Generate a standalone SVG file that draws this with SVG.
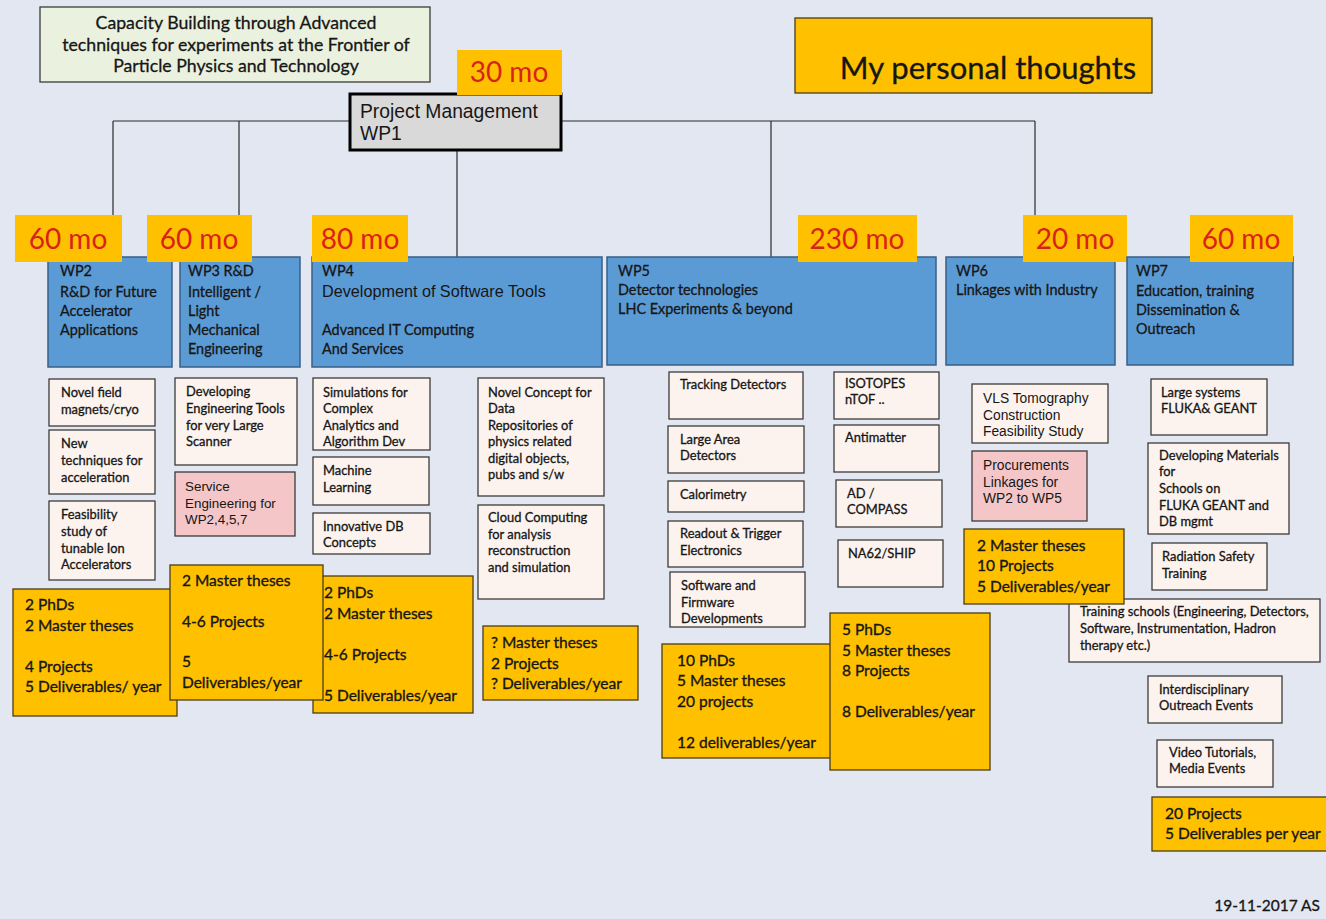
<svg xmlns="http://www.w3.org/2000/svg" width="1326" height="919" viewBox="0 0 1326 919">
  <style>
    .cal { font-family: Lato, "Open Sans", "Liberation Sans", sans-serif; fill: #161616; stroke: #161616; stroke-width: 0.3; }
    .ari { font-family: "Liberation Sans", Arial, sans-serif; fill: #161616; }
    .mo { font-family: Lato, "Open Sans", "Liberation Sans", sans-serif; font-size: 28px; fill: #d8231b; }
    .badge { fill: #ffc000; }
    .wp { fill: #5b9bd5; stroke: #3a5f86; stroke-width: 1.5; }
    .sub { fill: #fcf3ee; stroke: #3b3b3b; stroke-width: 1.3; }
    .pink { fill: #f4c6c8; stroke: #3b3b3b; stroke-width: 1.3; }
    .out { fill: #ffc000; stroke: #4a3c14; stroke-width: 1.3; }
    .s12 { font-size: 12.9px; }
    .s13 { font-size: 14.4px; }
    .s15 { font-size: 15.5px; stroke-width: 0.35; }
    .conn line { stroke: #2a2a2a; stroke-width: 1.2; }
  </style>

  <!-- background -->
  <rect x="0" y="0" width="1326" height="919" fill="#e3e7f2"/>

  <!-- connectors -->
  <g id="connectors" class="conn">
    <line x1="113" y1="121" x2="1035" y2="121"/>
    <line x1="113" y1="121" x2="113" y2="257"/>
    <line x1="239" y1="121" x2="239" y2="257"/>
    <line x1="457" y1="150" x2="457" y2="257"/>
    <line x1="771" y1="121" x2="771" y2="257"/>
    <line x1="1035" y1="121" x2="1035" y2="257"/>
  </g>

  <!-- header -->
  <g id="title">
    <rect x="40" y="7" width="390" height="75" fill="#ebf1df" stroke="#3b3b3b" stroke-width="1.3"/>
    <text class="cal" style="font-size:17.7px" text-anchor="middle"><tspan x="236" y="29">Capacity Building through Advanced</tspan><tspan x="236" y="51">techniques for experiments at the Frontier of</tspan><tspan x="236" y="72">Particle Physics and Technology</tspan></text>
  </g>

  <g id="thoughts">
    <rect x="795" y="18" width="357" height="75" fill="#ffc000" stroke="#4a3c14" stroke-width="1.3"/>
    <text class="cal" x="988" y="79" text-anchor="middle" style="font-size:31px">My personal thoughts</text>
  </g>

  <g id="wp1">
    <rect x="350" y="94" width="211" height="56" fill="#d9d9d9" stroke="#000" stroke-width="3"/>
    <text class="ari" style="font-size:19.3px"><tspan x="360" y="118">Project Management</tspan><tspan x="360" y="140">WP1</tspan></text>
    <rect class="badge" x="457" y="50" width="105" height="45"/>
    <text class="mo" x="509" y="82" text-anchor="middle">30 mo</text>
  </g>

  <!-- work packages -->
  <g id="wp2">
    <rect class="wp" x="48" y="257" width="124" height="110"/>
    <rect class="badge" x="15" y="215" width="107" height="47"/>
    <text class="mo" x="68" y="249" text-anchor="middle">60 mo</text>
    <text class="cal s13"><tspan x="60" y="276">WP2</tspan><tspan x="60" y="297">R&amp;D for Future</tspan><tspan x="60" y="316">Accelerator</tspan><tspan x="60" y="335">Applications</tspan></text>
  </g>

  <g id="wp3">
    <rect class="wp" x="180" y="257" width="120" height="110"/>
    <rect class="badge" x="147" y="215" width="105" height="47"/>
    <text class="mo" x="199" y="249" text-anchor="middle">60 mo</text>
    <text class="cal s13"><tspan x="188" y="276">WP3 R&amp;D</tspan><tspan x="188" y="297">Intelligent /</tspan><tspan x="188" y="316">Light</tspan><tspan x="188" y="335">Mechanical</tspan><tspan x="188" y="354">Engineering</tspan></text>
  </g>

  <g id="wp4">
    <rect class="wp" x="312" y="257" width="290" height="110"/>
    <rect class="badge" x="312" y="215" width="96" height="47"/>
    <text class="mo" x="360" y="249" text-anchor="middle">80 mo</text>
    <text class="cal s13" x="322" y="276">WP4</text>
    <text class="ari" x="322" y="297" style="font-size:16.2px">Development of Software Tools</text>
    <text class="cal s13"><tspan x="322" y="335">Advanced IT Computing</tspan><tspan x="322" y="354">And Services</tspan></text>
  </g>

  <g id="wp5">
    <rect class="wp" x="607" y="257" width="329" height="108"/>
    <rect class="badge" x="798" y="215" width="119" height="47"/>
    <text class="mo" x="857" y="249" text-anchor="middle">230 mo</text>
    <text class="cal s13"><tspan x="618" y="276">WP5</tspan><tspan x="618" y="295">Detector technologies</tspan><tspan x="618" y="314">LHC Experiments &amp; beyond</tspan></text>
  </g>

  <g id="wp6">
    <rect class="wp" x="946" y="257" width="169" height="108"/>
    <rect class="badge" x="1023" y="215" width="104" height="47"/>
    <text class="mo" x="1075" y="249" text-anchor="middle">20 mo</text>
    <text class="cal s13"><tspan x="956" y="276">WP6</tspan><tspan x="956" y="295">Linkages with Industry</tspan></text>
  </g>

  <g id="wp7">
    <rect class="wp" x="1127" y="257" width="166" height="108"/>
    <rect class="badge" x="1190" y="215" width="103" height="47"/>
    <text class="mo" x="1241" y="249" text-anchor="middle">60 mo</text>
    <text class="cal s13"><tspan x="1136" y="276">WP7</tspan><tspan x="1136" y="296">Education, training</tspan><tspan x="1136" y="315">Dissemination &amp;</tspan><tspan x="1136" y="334">Outreach</tspan></text>
  </g>

  <!-- WP2 topics -->
  <g id="wp2-topics">
    <rect class="sub" x="49" y="379" width="106" height="47"/>
    <text class="cal s12"><tspan x="61" y="397">Novel field</tspan><tspan x="61" y="414">magnets/cryo</tspan></text>
    <rect class="sub" x="49" y="430" width="106" height="64"/>
    <text class="cal s12"><tspan x="61" y="448">New</tspan><tspan x="61" y="465">techniques for</tspan><tspan x="61" y="482">acceleration</tspan></text>
    <rect class="sub" x="49" y="501" width="106" height="79"/>
    <text class="cal s12"><tspan x="61" y="519">Feasibility</tspan><tspan x="61" y="536">study of</tspan><tspan x="61" y="553">tunable Ion</tspan><tspan x="61" y="569">Accelerators</tspan></text>
  </g>

  <!-- WP3 topics -->
  <g id="wp3-topics">
    <rect class="sub" x="175" y="378" width="122" height="87"/>
    <text class="cal s12"><tspan x="186" y="396">Developing</tspan><tspan x="186" y="413">Engineering Tools</tspan><tspan x="186" y="430">for very Large</tspan><tspan x="186" y="446">Scanner</tspan></text>
    <rect class="pink" x="175" y="472" width="120" height="64"/>
    <text class="ari" style="font-size:13.4px"><tspan x="185" y="491">Service</tspan><tspan x="185" y="508">Engineering for</tspan><tspan x="185" y="524">WP2,4,5,7</tspan></text>
  </g>

  <!-- WP4 topics -->
  <g id="wp4-topics">
    <rect class="sub" x="313" y="378" width="117" height="72"/>
    <text class="cal s12"><tspan x="323" y="397">Simulations for</tspan><tspan x="323" y="413">Complex</tspan><tspan x="323" y="430">Analytics and</tspan><tspan x="323" y="446">Algorithm Dev</tspan></text>
    <rect class="sub" x="313" y="457" width="116" height="48"/>
    <text class="cal s12"><tspan x="323" y="475">Machine</tspan><tspan x="323" y="492">Learning</tspan></text>
    <rect class="sub" x="313" y="513" width="117" height="41"/>
    <text class="cal s12"><tspan x="323" y="531">Innovative DB</tspan><tspan x="323" y="547">Concepts</tspan></text>
    <rect class="sub" x="478" y="378" width="126" height="118"/>
    <text class="cal s12"><tspan x="488" y="397">Novel Concept for</tspan><tspan x="488" y="413">Data</tspan><tspan x="488" y="430">Repositories of</tspan><tspan x="488" y="446">physics related</tspan><tspan x="488" y="463">digital objects,</tspan><tspan x="488" y="479">pubs and s/w</tspan></text>
    <rect class="sub" x="478" y="505" width="126" height="94"/>
    <text class="cal s12"><tspan x="488" y="522">Cloud Computing</tspan><tspan x="488" y="539">for analysis</tspan><tspan x="488" y="555">reconstruction</tspan><tspan x="488" y="572">and simulation</tspan></text>
  </g>

  <!-- WP5 topics -->
  <g id="wp5-topics">
    <rect class="sub" x="669" y="372" width="134" height="47"/>
    <text class="cal s12" x="680" y="389">Tracking Detectors</text>
    <rect class="sub" x="668" y="426" width="136" height="47"/>
    <text class="cal s12"><tspan x="680" y="444">Large Area</tspan><tspan x="680" y="460">Detectors</tspan></text>
    <rect class="sub" x="668" y="481" width="136" height="31"/>
    <text class="cal s12" x="680" y="499">Calorimetry</text>
    <rect class="sub" x="668" y="521" width="135" height="46"/>
    <text class="cal s12"><tspan x="680" y="538">Readout &amp; Trigger</tspan><tspan x="680" y="555">Electronics</tspan></text>
    <rect class="sub" x="670" y="572" width="135" height="55"/>
    <text class="cal s12"><tspan x="681" y="590">Software and</tspan><tspan x="681" y="607">Firmware</tspan><tspan x="681" y="623">Developments</tspan></text>
    <rect class="sub" x="834" y="372" width="105" height="47"/>
    <text class="cal s12"><tspan x="845" y="388">ISOTOPES</tspan><tspan x="845" y="404">nTOF ..</tspan></text>
    <rect class="sub" x="834" y="425" width="105" height="47"/>
    <text class="cal s12" x="845" y="442">Antimatter</text>
    <rect class="sub" x="836" y="480" width="106" height="47"/>
    <text class="cal s12"><tspan x="847" y="498">AD /</tspan><tspan x="847" y="514">COMPASS</tspan></text>
    <rect class="sub" x="838" y="540" width="105" height="47"/>
    <text class="cal s12" x="848" y="558">NA62/SHIP</text>
  </g>

  <!-- WP6 topics -->
  <g id="wp6-topics">
    <rect class="sub" x="972" y="384" width="136" height="59"/>
    <text class="ari" style="font-size:13.8px"><tspan x="983" y="403">VLS Tomography</tspan><tspan x="983" y="420">Construction</tspan><tspan x="983" y="436">Feasibility Study</tspan></text>
    <rect class="pink" x="972" y="451" width="115" height="70"/>
    <text class="ari" style="font-size:13.8px"><tspan x="983" y="470">Procurements</tspan><tspan x="983" y="487">Linkages for</tspan><tspan x="983" y="503">WP2 to WP5</tspan></text>
  </g>

  <!-- WP7 topics -->
  <g id="wp7-topics">
    <rect class="sub" x="1151" y="379" width="116" height="56"/>
    <text class="cal s12"><tspan x="1161" y="397">Large systems</tspan><tspan x="1161" y="413">FLUKA&amp; GEANT</tspan></text>
    <rect class="sub" x="1148" y="443" width="141" height="91"/>
    <text class="cal s12"><tspan x="1159" y="460">Developing Materials</tspan><tspan x="1159" y="476">for</tspan><tspan x="1159" y="493">Schools on</tspan><tspan x="1159" y="510">FLUKA GEANT and</tspan><tspan x="1159" y="526">DB mgmt</tspan></text>
    <rect class="sub" x="1152" y="543" width="115" height="47"/>
    <text class="cal s12"><tspan x="1162" y="561">Radiation Safety</tspan><tspan x="1162" y="578">Training</tspan></text>
    <rect class="sub" x="1069" y="599" width="251" height="63"/>
    <text class="cal s12"><tspan x="1080" y="616">Training schools (Engineering, Detectors,</tspan><tspan x="1080" y="633">Software, Instrumentation, Hadron</tspan><tspan x="1080" y="650">therapy etc.)</tspan></text>
    <rect class="sub" x="1148" y="676" width="134" height="47"/>
    <text class="cal s12"><tspan x="1159" y="694">Interdisciplinary</tspan><tspan x="1159" y="710">Outreach Events</tspan></text>
    <rect class="sub" x="1157" y="740" width="116" height="47"/>
    <text class="cal s12"><tspan x="1169" y="757">Video Tutorials,</tspan><tspan x="1169" y="773">Media Events</tspan></text>
  </g>

  <!-- expected outputs -->
  <g id="wp2-outputs">
    <rect class="out" x="13" y="589" width="164" height="127"/>
    <text class="cal s15"><tspan x="25" y="610">2 PhDs</tspan><tspan x="25" y="631">2 Master theses</tspan><tspan x="25" y="672">4 Projects</tspan><tspan x="25" y="692">5 Deliverables/ year</tspan></text>
  </g>

  <g id="wp4-outputs">
    <rect class="out" x="313" y="576" width="160" height="137"/>
    <text class="cal s15"><tspan x="324" y="598">2 PhDs</tspan><tspan x="324" y="619">2 Master theses</tspan><tspan x="324" y="660">4-6 Projects</tspan><tspan x="324" y="701">5 Deliverables/year</tspan></text>
    <rect class="out" x="483" y="626" width="155" height="74"/>
    <text class="cal s15"><tspan x="491" y="648">? Master theses</tspan><tspan x="491" y="669">2 Projects</tspan><tspan x="491" y="689">? Deliverables/year</tspan></text>
  </g>

  <g id="wp3-outputs">
    <rect class="out" x="170" y="565" width="153" height="135"/>
    <text class="cal s15"><tspan x="182" y="586">2 Master theses</tspan><tspan x="182" y="627">4-6 Projects</tspan><tspan x="182" y="667">5</tspan><tspan x="182" y="688">Deliverables/year</tspan></text>
  </g>

  <g id="wp5-outputs">
    <rect class="out" x="662" y="644" width="178" height="114"/>
    <text class="cal s15"><tspan x="677" y="666">10 PhDs</tspan><tspan x="677" y="686">5 Master theses</tspan><tspan x="677" y="707">20 projects</tspan><tspan x="677" y="748">12 deliverables/year</tspan></text>
    <rect class="out" x="830" y="613" width="160" height="157"/>
    <text class="cal s15"><tspan x="842" y="635">5 PhDs</tspan><tspan x="842" y="656">5 Master theses</tspan><tspan x="842" y="676">8 Projects</tspan><tspan x="842" y="717">8 Deliverables/year</tspan></text>
  </g>

  <g id="wp6-outputs">
    <rect class="out" x="964" y="529" width="160" height="75"/>
    <text class="cal s15"><tspan x="977" y="551">2 Master theses</tspan><tspan x="977" y="571">10 Projects</tspan><tspan x="977" y="592">5 Deliverables/year</tspan></text>
  </g>

  <g id="wp7-outputs">
    <rect class="out" x="1152" y="797" width="176" height="54"/>
    <text class="cal s15"><tspan x="1165" y="819">20 Projects</tspan><tspan x="1165" y="839">5 Deliverables per year</tspan></text>
  </g>

  <text class="cal" x="1320" y="911" text-anchor="end" style="font-size:15.5px">19-11-2017 AS</text>
</svg>
